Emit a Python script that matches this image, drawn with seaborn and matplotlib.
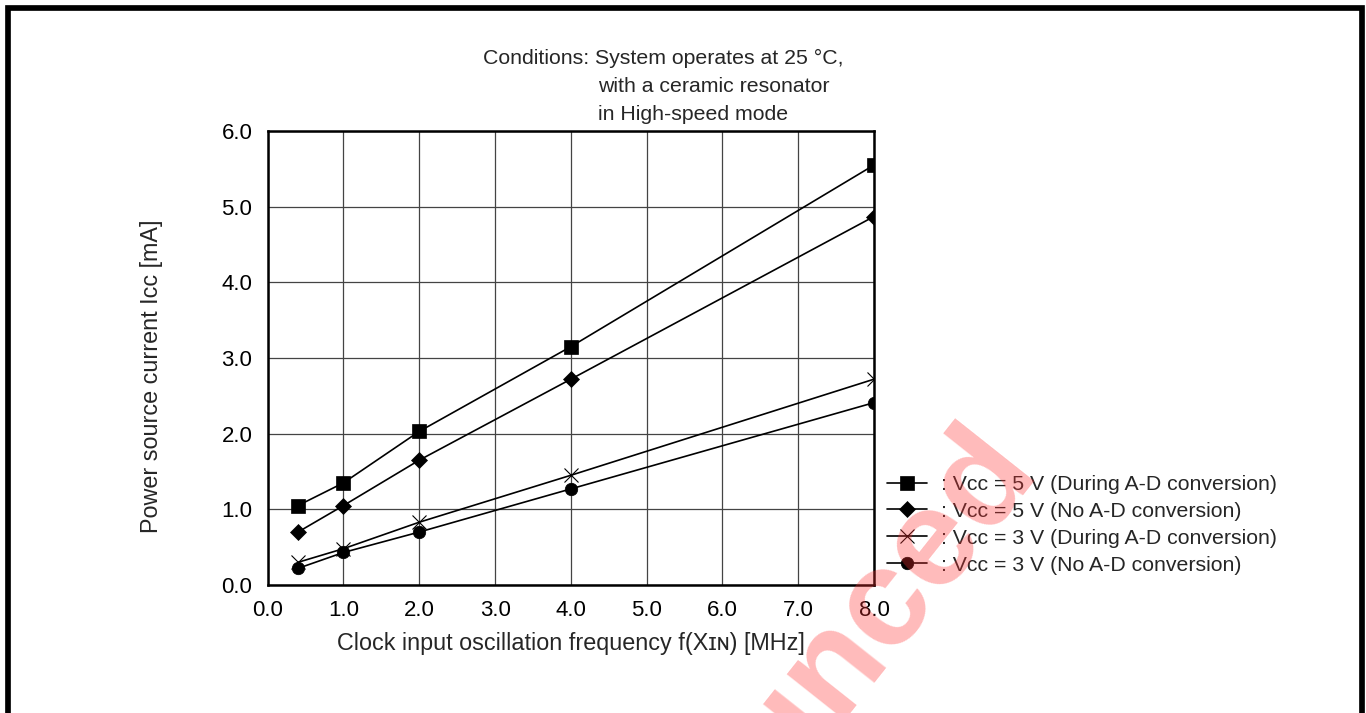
import matplotlib
matplotlib.use("Agg")
import matplotlib.pyplot as plt
import seaborn as sns
import pandas as pd
from matplotlib.lines import Line2D

# Operating current vs. clock frequency (25 °C, ceramic resonator, high-speed mode)
freq_mhz = [0.4, 1.0, 2.0, 4.0, 8.0]
icc_5v_ad = [1.05, 1.35, 2.03, 3.15, 5.55]
icc_5v_no_ad = [0.70, 1.05, 1.65, 2.72, 4.87]
icc_3v_ad = [0.30, 0.48, 0.83, 1.45, 2.72]
icc_3v_no_ad = [0.22, 0.43, 0.70, 1.27, 2.41]

series_labels = [
    ": Vcc = 5 V (During A-D conversion)",
    ": Vcc = 5 V (No A-D conversion)",
    ": Vcc = 3 V (During A-D conversion)",
    ": Vcc = 3 V (No A-D conversion)",
]
series_values = [icc_5v_ad, icc_5v_no_ad, icc_3v_ad, icc_3v_no_ad]

x_ticks = [0, 1, 2, 3, 4, 5, 6, 7, 8]
x_tick_labels = ["0.0", "1.0", "2.0", "3.0", "4.0", "5.0", "6.0", "7.0", "8.0"]
y_ticks = [0, 1, 2, 3, 4, 5, 6]
y_tick_labels = ["0.0", "1.0", "2.0", "3.0", "4.0", "5.0", "6.0"]

condition_lines = [
    "Conditions: System operates at 25 °C,",
    "with a ceramic resonator",
    "in High-speed mode",
]

df = pd.concat(
    [pd.DataFrame({"freq": freq_mhz, "icc": vals, "series": lab})
     for lab, vals in zip(series_labels, series_values)],
    ignore_index=True,
)

sns.set_style("white")
plt.rcParams["font.family"] = ["Liberation Sans", "DejaVu Sans"]

W, H = 1366, 713
fig = plt.figure(figsize=(W / 100, H / 100), dpi=100)
ax = fig.add_axes([267.7 / W, 1 - 585 / H, 606.3 / W, 454 / H])

marker_styles = [
    dict(marker="s", markersize=9.5, markeredgewidth=0.5),
    dict(marker="D", markersize=8.5, markeredgewidth=0.5),
    dict(marker="x", markersize=10, markeredgewidth=0.8),
    dict(marker="o", markersize=9, markeredgewidth=0.5),
]

for lab, style in zip(series_labels, marker_styles):
    sub = df[df["series"] == lab]
    sns.lineplot(data=sub, x="freq", y="icc", ax=ax, color="black",
                 linewidth=1.2, markeredgecolor="black", label=lab,
                 zorder=3, **style)

ax.set_xlim(0, 8)
ax.set_ylim(0, 6)
ax.set_xticks(x_ticks)
ax.set_xticklabels(x_tick_labels)
ax.set_yticks(y_ticks)
ax.set_yticklabels(y_tick_labels)
ax.tick_params(axis="both", length=0, pad=11, labelsize=16, colors="black")
ax.grid(True, color="#444444", linewidth=0.9)
for sp in ax.spines.values():
    sp.set_color("black")
    sp.set_linewidth(1.8)
    sp.set_zorder(4)

ax.set_xlabel("Clock input oscillation frequency f(Xɪɴ) [MHz]", fontsize=16.8)
ax.set_ylabel("Power source current Icc [mA]", fontsize=16.8)
ax.xaxis.set_label_coords(0.5, -0.128)
ax.yaxis.set_label_coords(-0.192, 0.46)
ax.xaxis.label.set_va("center")
ax.yaxis.label.set_va("center")

handles, labels = ax.get_legend_handles_labels()
ax.legend(handles, labels, loc="upper left",
          bbox_to_anchor=(887 / W, 1 - 475 / H), bbox_transform=fig.transFigure,
          frameon=False, borderpad=0, borderaxespad=0, handlelength=1.9,
          handletextpad=0.65, labelspacing=0.37, fontsize=15.3)

# Test-condition note above the plot
fig.text(483 / W, 1 - 64.5 / H, condition_lines[0], fontsize=15.3,
         ha="left", va="baseline")
for i, line in enumerate(condition_lines[1:], start=1):
    fig.text(598 / W, 1 - (64.5 + 27.7 * i) / H, line, fontsize=15.3,
             ha="left", va="baseline")

# Page frame (top, left and right edges)
frame_x = [7.7 / W, 7.7 / W, 1361.5 / W, 1361.5 / W]
frame_y = [0, 1 - 7.8 / H, 1 - 7.8 / H, 0]
fig.add_artist(Line2D(frame_x, frame_y, transform=fig.transFigure,
                      color="black", linewidth=4.1,
                      solid_joinstyle="miter"))

# Status stamp across the page
fig.text(1040 / W, 1 - 470 / H, "Announced", rotation=51.6,
         rotation_mode="anchor", ha="right", va="baseline",
         fontsize=100, fontweight="bold", color="#ff3030", alpha=0.33, zorder=10)

fig.savefig("out.png", dpi=100)
